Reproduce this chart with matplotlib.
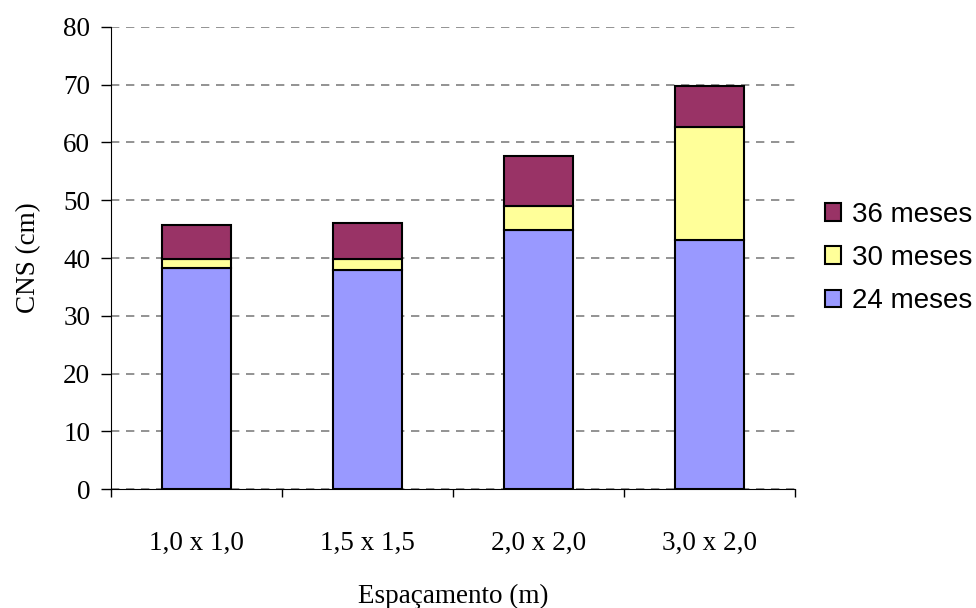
import matplotlib.pyplot as plt
import numpy as np

categorias = ['1,0 x 1,0', '1,5 x 1,5', '2,0 x 2,0', '3,0 x 2,0']
m24 = [38.2, 37.9, 44.9, 43.2]
m30 = [1.7, 1.9, 4.1, 19.4]
m36 = [5.8, 6.3, 8.6, 7.1]

serif = ['Liberation Serif', 'DejaVu Serif']

fig = plt.figure(figsize=(9.76, 6.08), dpi=100)
ax = fig.add_axes([0.1137, 0.1957, 0.7008, 0.7599])

x = np.arange(len(categorias))
w = 0.4
base = np.zeros(len(categorias))
for vals, cor, lab in [(m24, '#9999FF', '24 meses'),
                       (m30, '#FFFF99', '30 meses'),
                       (m36, '#993366', '36 meses')]:
    ax.bar(x, vals, w, bottom=base, color=cor, edgecolor='black',
           linewidth=1.5, label=lab, zorder=3)
    base = base + np.array(vals)

ax.set_xlim(-0.5, len(categorias) - 0.5)
ax.set_ylim(0, 80)
ax.set_yticks(range(0, 81, 10))
ax.yaxis.grid(True, linestyle=(0, (5, 4)), color='#808080', linewidth=1.2, zorder=0)

ax.set_xticks(x)
ax.set_xticklabels(categorias, family=serif, fontsize=19.5)
ax.set_xticks(np.arange(-0.5, len(categorias)), minor=True)
ax.tick_params(axis='x', which='major', length=0, pad=30)
ax.tick_params(axis='x', which='minor', length=6, width=1, direction='out')
ax.tick_params(axis='y', length=7, width=1, direction='out', pad=8)
for t in ax.get_yticklabels():
    t.set_family(serif)
    t.set_fontsize(19.5)

for s in ['top', 'right']:
    ax.spines[s].set_visible(False)

ax.set_xlabel('Espaçamento (m)', family=serif, fontsize=19.5, labelpad=20)
ax.set_ylabel('CNS (cm)', family=serif, fontsize=19.5, labelpad=16)

h, l = ax.get_legend_handles_labels()
leg = fig.legend(h[::-1], l[::-1], loc='center left', bbox_to_anchor=(0.845, 0.5757),
                 frameon=False, prop={'family': ['Liberation Sans', 'DejaVu Sans'], 'size': 20},
                 handlelength=0.6, handleheight=0.6, handletextpad=0.4, labelspacing=0.62,
                 borderpad=0, borderaxespad=0)
for p in leg.get_patches():
    p.set_linewidth(1.5)

fig.savefig('out.png', dpi=100)
